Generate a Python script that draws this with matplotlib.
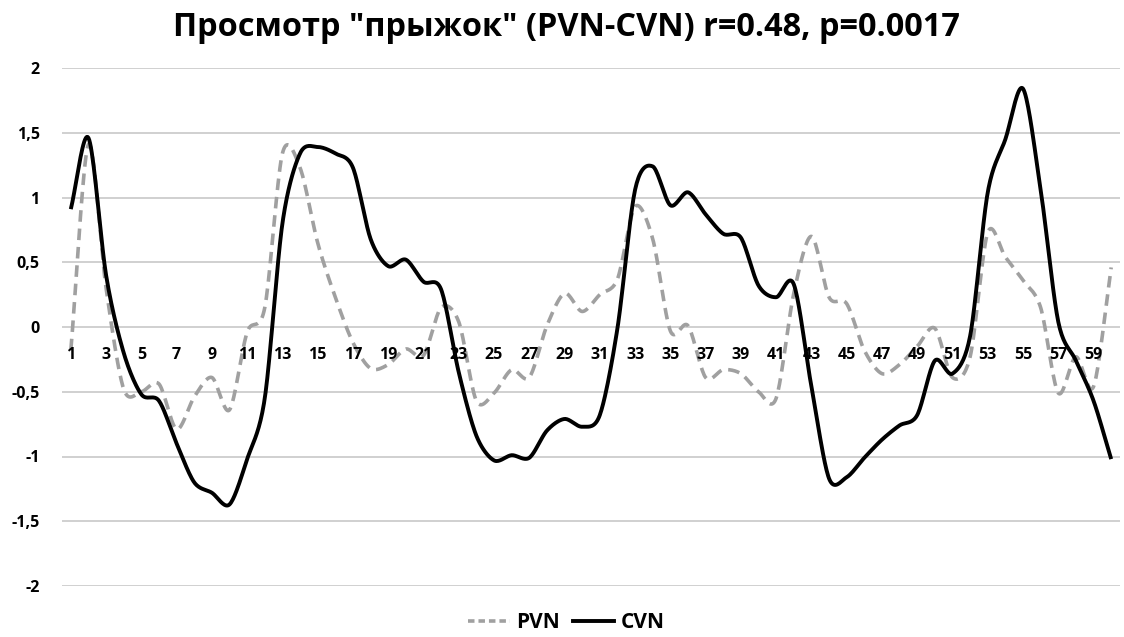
import numpy as np
import matplotlib
matplotlib.use("Agg")
import matplotlib.pyplot as plt
from matplotlib.lines import Line2D

x_vals = list(range(1, 61))
pvn = [-0.18, 1.41, 0.30, -0.48, -0.50, -0.44, -0.79, -0.54, -0.39, -0.64,
       -0.04, 0.15, 1.34, 1.23, 0.65, 0.23, -0.12, -0.32, -0.29, -0.17,
       -0.22, 0.15, 0.04, -0.57, -0.51, -0.33, -0.39, 0.01, 0.26, 0.12,
       0.25, 0.37, 0.93, 0.68, -0.03, 0.01, -0.39, -0.33, -0.36, -0.50,
       -0.55, 0.26, 0.70, 0.23, 0.18, -0.18, -0.36, -0.29, -0.15, -0.01,
       -0.39, -0.23, 0.73, 0.54, 0.36, 0.15, -0.51, -0.23, -0.46, 0.46]
cvn = [0.91, 1.46, 0.40, -0.20, -0.52, -0.57, -0.90, -1.20, -1.28, -1.37,
       -1.02, -0.55, 0.80, 1.34, 1.39, 1.34, 1.23, 0.68, 0.47, 0.52,
       0.35, 0.29, -0.35, -0.84, -1.03, -0.99, -1.01, -0.80, -0.71, -0.77,
       -0.68, -0.01, 1.06, 1.24, 0.94, 1.04, 0.87, 0.72, 0.69, 0.32,
       0.23, 0.33, -0.46, -1.17, -1.16, -1.01, -0.87, -0.76, -0.68, -0.26,
       -0.36, -0.07, 1.04, 1.45, 1.84, 1.06, 0.04, -0.26, -0.57, -1.02]
y_ticks = [2, 1.5, 1, 0.5, 0, -0.5, -1, -1.5, -2]
y_labels = ["2", "1,5", "1", "0,5", "0", "-0,5", "-1", "-1,5", "-2"]
x_tick_pos = list(range(1, 61, 2))
title = 'Просмотр "прыжок" (PVN-CVN) r=0.48, p=0.0017'


def smooth(xs, ys, n=20):
    # Catmull-Rom rendering of a smoothed line (like Excel "smoothed line")
    xs = np.asarray(xs, float)
    ys = np.asarray(ys, float)
    px = np.concatenate([[2 * xs[0] - xs[1]], xs, [2 * xs[-1] - xs[-2]]])
    py = np.concatenate([[2 * ys[0] - ys[1]], ys, [2 * ys[-1] - ys[-2]]])
    outx, outy = [], []
    t = np.linspace(0, 1, n, endpoint=False)
    for i in range(1, len(px) - 2):
        for arr, out in ((px, outx), (py, outy)):
            p0, p1, p2, p3 = arr[i - 1], arr[i], arr[i + 1], arr[i + 2]
            m1 = (p2 - p0) / 2 * 0.9
            m2 = (p3 - p1) / 2 * 0.9
            h00 = 2 * t**3 - 3 * t**2 + 1
            h10 = t**3 - 2 * t**2 + t
            h01 = -2 * t**3 + 3 * t**2
            h11 = t**3 - t**2
            out.extend(h00 * p1 + h10 * m1 + h01 * p2 + h11 * m2)
    outx.append(xs[-1])
    outy.append(ys[-1])
    return np.array(outx), np.array(outy)


plt.rcParams['font.family'] = ['Open Sans', 'DejaVu Sans']
fig = plt.figure(figsize=(11.24, 6.37), dpi=100)
W, H = 1124, 637
ax = fig.add_axes([62 / W, 1 - 586 / H, (1120 - 62) / W, (586 - 68) / H])

ax.set_xlim(0.5, 60.5)
ax.set_ylim(-2, 2)
for yt in y_ticks:
    ax.axhline(yt, color='#d0d0d0', lw=1.4, zorder=0)

sx, sy = smooth(x_vals, pvn)
ax.plot(sx, sy, color='#a0a0a0', lw=2.6, dashes=(3.2, 1.9), zorder=2)
sx, sy = smooth(x_vals, cvn)
ax.plot(sx, sy, color='black', lw=2.8, zorder=3, solid_capstyle='butt')

for s in ax.spines.values():
    s.set_visible(False)
ax.set_xticks([])
ax.set_yticks(y_ticks)
ax.set_yticklabels(y_labels, fontsize=11.5, fontweight='bold')
ax.tick_params(axis='y', length=0, pad=16)

for xp in x_tick_pos:
    ax.annotate(str(xp), xy=(xp, 0), xytext=(0, -28), textcoords='offset pixels',
                ha='center', va='center', fontsize=11.5, fontweight='bold')

fig.text(0.504, 1 - 27 / H, title, ha='center', va='center', fontsize=23.4,
         fontweight='bold')

handles = [Line2D([], [], color='#a0a0a0', lw=2.6, dashes=(1.8, 1.1)),
           Line2D([], [], color='black', lw=2.8)]
fig.legend(handles, ['PVN', 'CVN'], loc='center', bbox_to_anchor=(0.504, 1 - 623 / H),
           ncol=2, frameon=False, prop={'size': 15, 'weight': 'bold'},
           handlelength=2.0, handletextpad=0.3, columnspacing=0.6)

fig.savefig('out.png', dpi=100)
